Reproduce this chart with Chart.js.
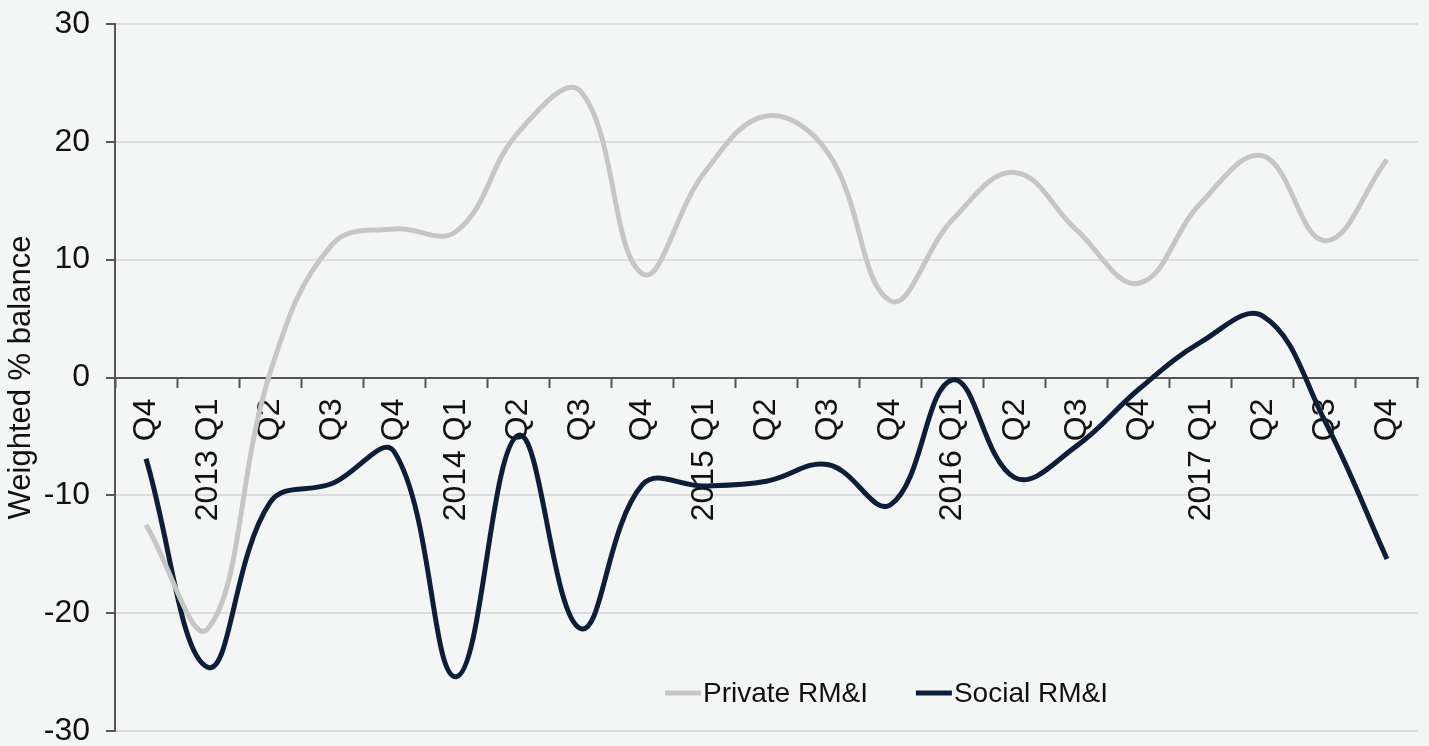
<!DOCTYPE html>
<html>
<head>
<meta charset="utf-8">
<script src="https://cdn.jsdelivr.net/npm/chart.js@4.4.1/dist/chart.umd.min.js"></script>
<style>
  html, body { margin: 0; padding: 0; background: #f4f6f6; }
  #wrap { width: 1429px; height: 746px; position: relative; }
</style>
</head>
<body>
<div id="wrap"><canvas id="rmi"></canvas></div>
<script>
// quarters, Q4 2012 .. Q4 2017
var quarters = ['Q4', '2013 Q1', 'Q2', 'Q3', 'Q4', '2014 Q1', 'Q2', 'Q3', 'Q4', '2015 Q1', 'Q2', 'Q3', 'Q4',
                '2016 Q1', 'Q2', 'Q3', 'Q4', '2017 Q1', 'Q2', 'Q3', 'Q4'];
var privateRMI = [-12.5, -21.3, 0.4, 11.3, 12.6, 12.4, 20.8, 24.3, 8.8, 17.4, 22.2, 19.0, 6.5,
                  13.4, 17.4, 12.5, 8.0, 14.8, 18.8, 11.6, 18.5];
var socialRMI = [-6.9, -24.6, -10.6, -9.0, -6.3, -25.4, -4.9, -21.3, -9.1, -9.2, -8.8, -7.4, -10.8,
                 -0.2, -8.5, -5.8, -1.0, 3.0, 5.2, -3.7, -15.4];
var yTicks = [-30, -20, -10, 0, 10, 20, 30];

var FONT = "'Liberation Sans', Arial, sans-serif";

// legend drawn inside the plot, lower right
var insideLegend = {
    id: 'insideLegend',
    afterDraw: function (chart) {
        var ctx = chart.ctx;
        var a = chart.chartArea;
        var y = a.bottom - 38;
        var x = a.left + 550;
        ctx.save();
        ctx.font = '28px ' + FONT;
        ctx.textBaseline = 'middle';
        chart.data.datasets.forEach(function (ds) {
            ctx.strokeStyle = ds.borderColor;
            ctx.lineWidth = 5;
            ctx.beginPath();
            ctx.moveTo(x, y);
            ctx.lineTo(x + 36, y);
            ctx.stroke();
            ctx.fillStyle = '#111';
            ctx.fillText(ds.label, x + 38, y + 1);
            x += 38 + ctx.measureText(ds.label).width + 48;
        });
        ctx.restore();
    }
};

new Chart(document.getElementById('rmi'), {
    type: 'line',
    data: {
        labels: quarters,
        datasets: [{
            label: 'Private RM&I',
            data: privateRMI,
            borderColor: '#c6c6c6',
            borderWidth: 5,
            pointRadius: 0,
            tension: 0.4
        }, {
            label: 'Social RM&I',
            data: socialRMI,
            borderColor: '#0e1e3a',
            borderWidth: 5,
            pointRadius: 0,
            tension: 0.4
        }]
    },
    options: {
        responsive: true,
        maintainAspectRatio: false,
        animation: false,
        layout: { padding: { left: 0, right: 11, top: 24, bottom: 15 } },
        plugins: {
            legend: { display: false },
            tooltip: { enabled: false }
        },
        scales: {
            x: {
                type: 'category',
                position: { y: 0 },
                offset: true,
                afterFit: function (scale) { scale.paddingLeft = 0; scale.paddingRight = 0; },
                grid: {
                    display: true,
                    drawOnChartArea: false,
                    offset: true,
                    tickLength: 9,
                    tickColor: '#555',
                    tickWidth: 2
                },
                border: { display: true, color: '#555', width: 2 },
                ticks: {
                    autoSkip: false,
                    minRotation: 90,
                    maxRotation: 90,
                    padding: 12,
                    color: '#111',
                    font: { family: FONT, size: 32 }
                }
            },
            y: {
                min: -30,
                max: 30,
                afterBuildTicks: function (scale) {
                    scale.ticks = yTicks.map(function (v) { return { value: v }; });
                },
                afterFit: function (scale) {
                    scale.width = 115;
                    scale.paddingTop = 0;
                    scale.paddingBottom = 0;
                },
                grid: {
                    color: '#dcdcdc',
                    lineWidth: 2,
                    tickLength: 9,
                    tickColor: '#555',
                    tickWidth: 2
                },
                border: { display: true, color: '#555', width: 2 },
                ticks: {
                    padding: 16,
                    color: '#111',
                    font: { family: FONT, size: 32 }
                },
                title: {
                    display: true,
                    text: 'Weighted % balance',
                    color: '#111',
                    padding: { top: 3, bottom: 0 },
                    font: { family: FONT, size: 31 }
                }
            }
        }
    },
    plugins: [insideLegend]
});
</script>
</body>
</html>
